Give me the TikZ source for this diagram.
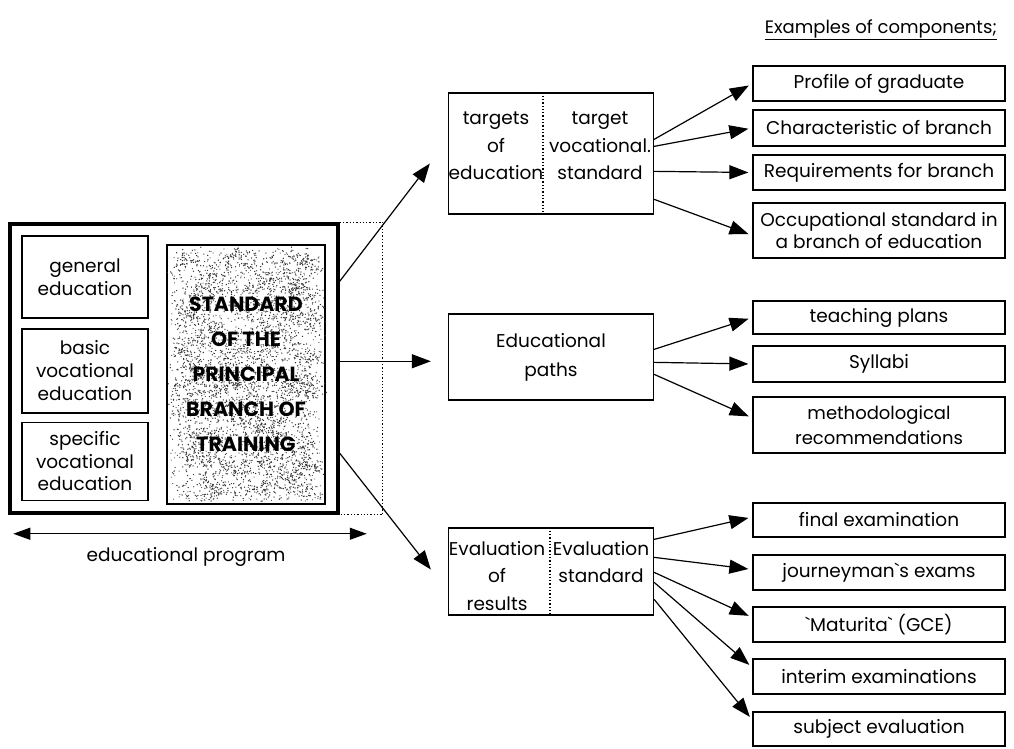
\documentclass[tikz,border=0pt]{standalone}
\usepackage{fontspec}
\setmainfont{Poppins}[Ligatures=TeXOff]
\usetikzlibrary{arrows.meta,calc}
\begin{document}
\begin{tikzpicture}[x=1pt,y=-1pt,
  box/.style={draw,line width=1.3pt,inner sep=0pt,align=center,
    font=\fontsize{18.5}{24}\selectfont},
  rbox/.style={box,minimum width=252pt},
  arr/.style={line width=1.2pt,-{Triangle[length=19pt,width=14pt]}},
  dots/.style={dotted,line width=1.3pt},
  lbl/.style={align=center,inner sep=0pt,font=\fontsize{18.5}{27.5}\selectfont}]
\useasboundingbox (0,0) rectangle (1014,748);

% educational program
\node[draw,line width=3.5pt,minimum width=328pt,minimum height=289pt] (prog) at (174,368.5) {};
\node[box,minimum width=126pt,minimum height=82pt,font=\fontsize{18.5}{23.5}\selectfont] (gen) at (85,277) {general\\education};
\node[box,minimum width=126pt,minimum height=84pt,font=\fontsize{18.5}{23}\selectfont] (basic) at (85,371) {basic\\vocational\\education};
\node[box,minimum width=126pt,minimum height=78pt,font=\fontsize{18.5}{22.5}\selectfont] (spec) at (85,461.5) {specific\\vocational\\education};

% stippled standard box
\node[draw,fill=white,line width=1.3pt,minimum width=158pt,minimum height=259pt] (std) at (246,374.5) {};
\pgfmathsetseed{12}
\foreach \i in {1,...,620} {
  \pgfmathsetmacro{\cx}{174+144*rnd}
  \pgfmathsetmacro{\cy}{251+247*rnd}
  \foreach \j in {1,...,6} {
    \fill[black!80] ({\cx+9*rand},{\cy+6*rand}) circle (0.7pt);
  }
}
\foreach \i in {1,...,900} {
  \fill[black!70] ({171+150*rnd},{248+253*rnd}) circle (0.6pt);
}
\node[align=center,inner sep=0pt,font=\bfseries\fontsize{20.5}{35}\selectfont] (stdtxt) at (std.center)
  {STANDARD\\OF THE\\PRINCIPAL\\BRANCH OF\\TRAINING};

% dotted extension and width arrow
\draw[dots] (prog.north east) -- ++(43,0) coordinate (dne) -- ($(prog.south east)+(43,0)$) coordinate (dse) -- (prog.south east);
\coordinate (pl) at ($(prog.south west)+(5,19)$);
\coordinate (pr) at ($(prog.south east)+(27,19)$);
\draw[line width=1.1pt,{Triangle[length=17pt,width=12pt]}-{Triangle[length=17pt,width=12pt]}] (pl) -- (pr);
\node[lbl] (progtxt) at (186,557) {educational program};

% middle column
\node[box,minimum width=205pt,minimum height=121pt] (tgt) at (551,153.5) {};
\draw[dots] ($(tgt.north)+(-8,0)$) coordinate (tdn) -- ($(tgt.south)+(-8,0)$);
\node[lbl] (tgtl) at (496,146) {targets\\of\\education};
\node[lbl] (tgtr) at (600,146) {target\\vocational.\\standard};

\node[box,minimum width=205pt,minimum height=86pt,font=\fontsize{18.5}{29}\selectfont] (path) at (551,357) {Educational\\paths};

\node[box,minimum width=205pt,minimum height=87pt] (eval) at (551,571.5) {};
\draw[dots] ($(eval.north)+(-1,0)$) -- ($(eval.south)+(-1,0)$);
\node[lbl] (evall) at (497,576) {Evaluation\\of\\results};
\node[lbl] (evalr) at (601,562) {Evaluation\\standard};

% arrows out of the program
\coordinate (s1) at ($(prog.north east)+(0,59)$);
\coordinate (s2) at ($(prog.north east)+(0,139)$);
\coordinate (s3) at ($(prog.north east)+(0,231)$);
\coordinate (e1) at ($(tgt.west)+(-18,10)$);
\coordinate (e3) at ($(eval.west)+(-17,-2)$);
\draw[arr] (s1) -- (e1);
\draw[arr] (s2) -- ([xshift=-17pt]path.west |- s2);
\draw[arr] (s3) -- (e3);

% examples of components
\node[lbl,anchor=base,font=\fontsize{18}{22}\selectfont] (ex) at (881,33) {\underline{Examples of components;}};

\node[rbox,minimum height=35pt] (prof) at (879,83.5) {Profile of graduate};
\node[rbox,minimum height=36pt] (char) at (879,128) {Characteristic of branch};
\node[rbox,minimum height=35pt] (req) at (879,172.5) {Requirements for branch};
\node[rbox,minimum height=55pt,font=\fontsize{18.5}{22}\selectfont] (occ) at (879,230.5) {Occupational standard in\\a branch of education};

\node[rbox,minimum height=33pt] (teach) at (879,317.5) {teaching plans};
\node[rbox,minimum height=36pt] (syll) at (879,364) {Syllabi};
\node[rbox,minimum height=56pt,font=\fontsize{18}{25}\selectfont] (meth) at (879,425) {methodological\\recommendations};

\node[rbox,minimum height=34pt] (fin) at (879,520) {final examination};
\node[rbox,minimum height=35pt] (jour) at (879,572.5) {journeyman`s exams};
\node[rbox,minimum height=35pt] (mat) at (879,624.5) {`Maturita` (GCE)};
\node[rbox,minimum height=35pt] (intr) at (879,676.5) {interim examinations};
\node[rbox,minimum height=34pt] (subj) at (879,729) {subject evaluation};

% fan-out arrows
\begin{scope}[shorten >=4pt]
\draw[arr] ($(tgt.north east)+(0,47)$) -- (prof.west);
\draw[arr] ($(tgt.north east)+(0,54)$) -- (char.west);
\draw[arr] ($(tgt.north east)+(0,79)$) -- (req.west);
\draw[arr] ($(tgt.north east)+(0,107)$) -- ($(occ.west)+(0,5)$);

\draw[arr] ($(path.north east)+(0,36)$) -- (teach.west);
\draw[arr] ($(path.north east)+(0,49)$) -- (syll.west);
\draw[arr] ($(path.north east)+(0,61)$) -- ($(meth.west)+(0,-7)$);

\draw[arr] ($(eval.north east)+(0,12)$) -- ($(fin.west)+(0,-3)$);
\draw[arr] ($(eval.north east)+(0,30)$) -- ($(jour.west)+(0,-3)$);
\draw[arr] ($(eval.north east)+(0,45)$) -- ($(mat.west)+(0,-7)$);
\draw[arr] ($(eval.north east)+(0,55)$) -- ($(intr.west)+(0,-9)$);
\draw[arr] ($(eval.north east)+(0,72)$) -- ($(subj.west)+(0,-9)$);
\end{scope}
\end{tikzpicture}
\end{document}
